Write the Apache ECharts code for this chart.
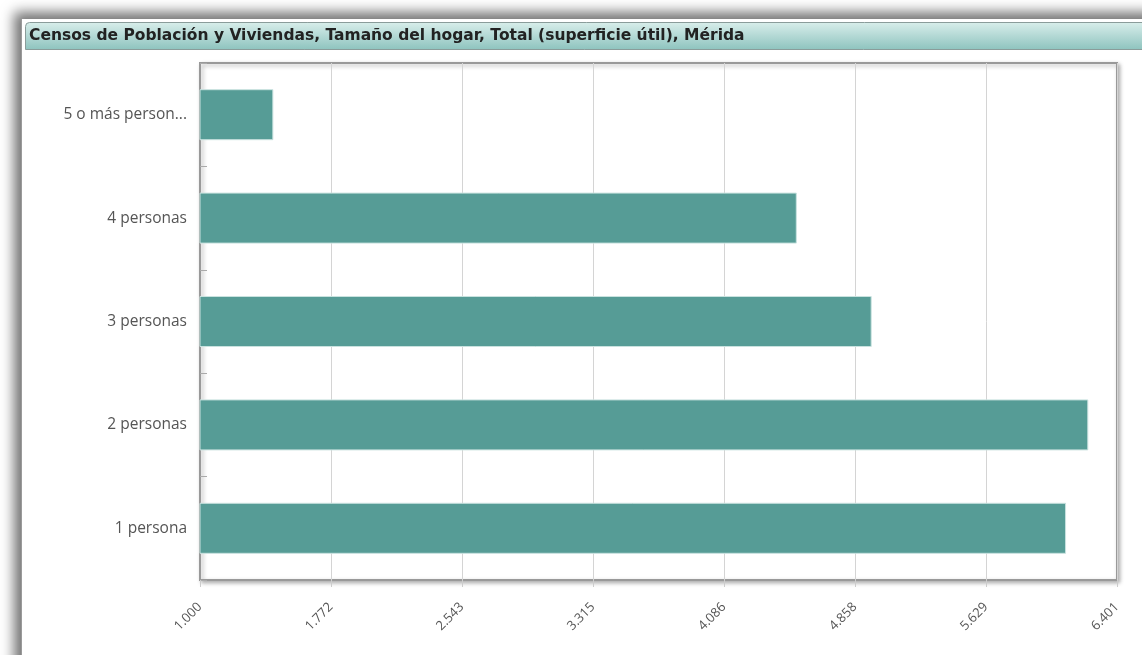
<!DOCTYPE html>
<html>
<head>
<meta charset="utf-8">
<script src="https://cdn.jsdelivr.net/npm/echarts@6/dist/echarts.min.js"></script>
<style>
  html, body { margin: 0; padding: 0; background: #fff; width: 1142px; height: 655px; overflow: hidden; }
  #frame { position: absolute; left: 21px; top: 19px; width: 1200px; height: 700px; background: #fff;
           box-shadow: -5px -5px 12px 2px rgba(0,0,0,0.55); border-left: 1px solid #9a9a9a; }
  #chart { position: absolute; left: 0; top: 0; width: 1142px; height: 655px; }
</style>
</head>
<body>
<div id="frame"></div>
<div id="chart"></div>
<script>
const titleText = 'Censos de Población y Viviendas, Tamaño del hogar, Total (superficie útil), Mérida';
const categories = ['1 persona', '2 personas', '3 personas', '4 personas', '5 o más personas'];
const values = [6101, 6232, 4956, 4515, 1432];
const axisMin = 1000;
const axisMax = 6401;
const xTickLabels = ['1.000', '1.772', '2.543', '3.315', '4.086', '4.858', '5.629', '6.401'];

const chart = echarts.init(document.getElementById('chart'), null, { renderer: 'canvas' });
chart.setOption({
  backgroundColor: 'transparent',
  animation: false,
  graphic: [{
    type: 'rect',
    shape: { x: 25.5, y: 22.5, width: 1140, height: 27, r: [4, 0, 0, 0] },
    style: {
      fill: { type: 'linear', x: 0, y: 0, x2: 0, y2: 1, colorStops: [
        { offset: 0, color: '#d9eeeb' }, { offset: 1, color: '#8dc3be' }] },
      stroke: '#8a9c9a', lineWidth: 1
    },
    z: 0
  }],
  title: {
    text: titleText,
    left: 29, top: 28,
    padding: 0,
    textStyle: { fontFamily: 'DejaVu Sans, Verdana, sans-serif', fontWeight: 'bold', fontSize: 15.5, color: '#222' },
    z: 5
  },
  grid: {
    left: 200, top: 63, right: 25, bottom: 75,
    show: true, backgroundColor: '#fff', borderColor: '#999', borderWidth: 2,
    shadowColor: 'rgba(0,0,0,0.3)', shadowBlur: 4, shadowOffsetX: 2, shadowOffsetY: 2
  },
  xAxis: {
    type: 'value',
    min: axisMin, max: axisMax,
    interval: (axisMax - axisMin) / 7,
    axisLine: { show: false },
    axisTick: { show: true, length: 7, lineStyle: { color: '#ccc' } },
    splitLine: { show: true, lineStyle: { color: '#d4d4d4', width: 1 } },
    axisLabel: {
      rotate: 45, margin: 25,
      fontFamily: 'Open Sans, sans-serif', fontSize: 13, color: '#555',
      formatter: function (v, i) { return xTickLabels[i] !== undefined ? xTickLabels[i] : ''; }
    }
  },
  yAxis: {
    type: 'category',
    data: categories,
    axisLine: { show: true, lineStyle: { color: '#999', width: 2 } },
    axisTick: { show: true, inside: true, length: 7, lineStyle: { color: '#aaa' } },
    axisLabel: {
      margin: 13, width: 128, overflow: 'truncate', ellipsis: '...',
      fontFamily: 'Open Sans, sans-serif', fontSize: 15.5, color: '#555'
    }
  },
  series: [{
    type: 'bar',
    data: values,
    barWidth: 51,
    itemStyle: { color: '#569c96', borderColor: '#c9e2df', borderWidth: 1 },
    silent: true
  }]
});
</script>
</body>
</html>
